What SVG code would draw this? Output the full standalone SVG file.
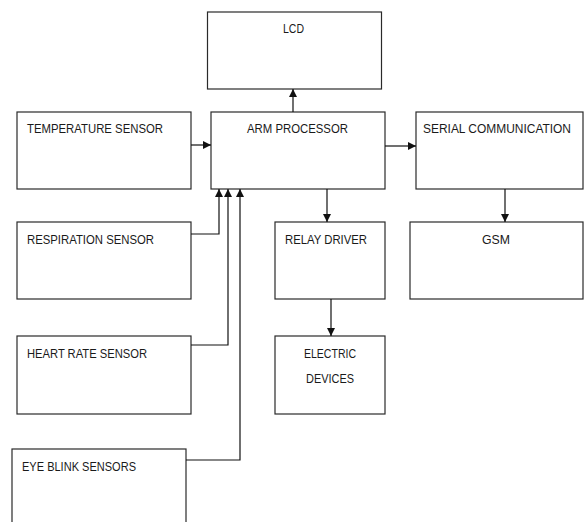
<svg xmlns="http://www.w3.org/2000/svg" width="584" height="522" viewBox="0 0 584 522">
<style>
.box{fill:#fff;stroke:#2a2a2a;stroke-width:1.2}
.t{font-family:"Liberation Sans",Arial,sans-serif;font-size:13.5px;fill:#1a1a1a}
.s{font-size:12.5px}
.c{fill:none;stroke:#111;stroke-width:1.2}
</style>
<defs>
<marker id="ah" viewBox="0 0 10 10" refX="10" refY="5" markerWidth="8" markerHeight="8" markerUnits="userSpaceOnUse" orient="auto">
<path d="M0,0 L10,5 L0,10 z" fill="#111"/>
</marker>
</defs>
<rect width="584" height="522" fill="#fff"/>
<g id="lcd"><rect class="box" x="207.5" y="12" width="174" height="77"/><text class="t" x="283" y="33" textLength="21" lengthAdjust="spacingAndGlyphs">LCD</text></g>
<g id="arm"><rect class="box" x="211" y="112" width="174" height="77"/><text class="t" x="247" y="133" textLength="101" lengthAdjust="spacingAndGlyphs">ARM PROCESSOR</text></g>
<g id="temp"><rect class="box" x="17" y="112" width="174" height="77"/><text class="t" x="27" y="133" textLength="136" lengthAdjust="spacingAndGlyphs">TEMPERATURE SENSOR</text></g>
<g id="serial"><rect class="box" x="416" y="112" width="167" height="77"/><text class="t s" x="423" y="133" textLength="148" lengthAdjust="spacingAndGlyphs">SERIAL COMMUNICATION</text></g>
<g id="resp"><rect class="box" x="17" y="222" width="174" height="77"/><text class="t" x="27" y="244" textLength="127" lengthAdjust="spacingAndGlyphs">RESPIRATION SENSOR</text></g>
<g id="relay"><rect class="box" x="275" y="222" width="110" height="77"/><text class="t" x="285" y="244" textLength="82" lengthAdjust="spacingAndGlyphs">RELAY DRIVER</text></g>
<g id="gsm"><rect class="box" x="410" y="222" width="173" height="77"/><text class="t" x="482" y="244" textLength="28" lengthAdjust="spacingAndGlyphs">GSM</text></g>
<g id="heart"><rect class="box" x="17" y="336" width="174" height="78"/><text class="t" x="27" y="358" textLength="120" lengthAdjust="spacingAndGlyphs">HEART RATE SENSOR</text></g>
<g id="electric"><rect class="box" x="275" y="336" width="110" height="78"/><text class="t" x="304" y="358" textLength="52" lengthAdjust="spacingAndGlyphs">ELECTRIC</text><text class="t" x="306" y="383" textLength="48" lengthAdjust="spacingAndGlyphs">DEVICES</text></g>
<g id="eye"><rect class="box" x="12" y="449" width="174" height="80"/><text class="t" x="22" y="471" textLength="114" lengthAdjust="spacingAndGlyphs">EYE BLINK SENSORS</text></g>
<g id="connectors">
<path class="c" d="M293,112 V89" marker-end="url(#ah)"/>
<path class="c" d="M191,145 H211" marker-end="url(#ah)"/>
<path class="c" d="M385,146 H416" marker-end="url(#ah)"/>
<path class="c" d="M327,189 V222" marker-end="url(#ah)"/>
<path class="c" d="M505,189 V222" marker-end="url(#ah)"/>
<path class="c" d="M331,299 V336" marker-end="url(#ah)"/>
<path class="c" d="M191,234 H219 V189" marker-end="url(#ah)"/>
<path class="c" d="M191,345 H228 V189" marker-end="url(#ah)"/>
<path class="c" d="M186,460 H240 V189" marker-end="url(#ah)"/>
</g>
</svg>
